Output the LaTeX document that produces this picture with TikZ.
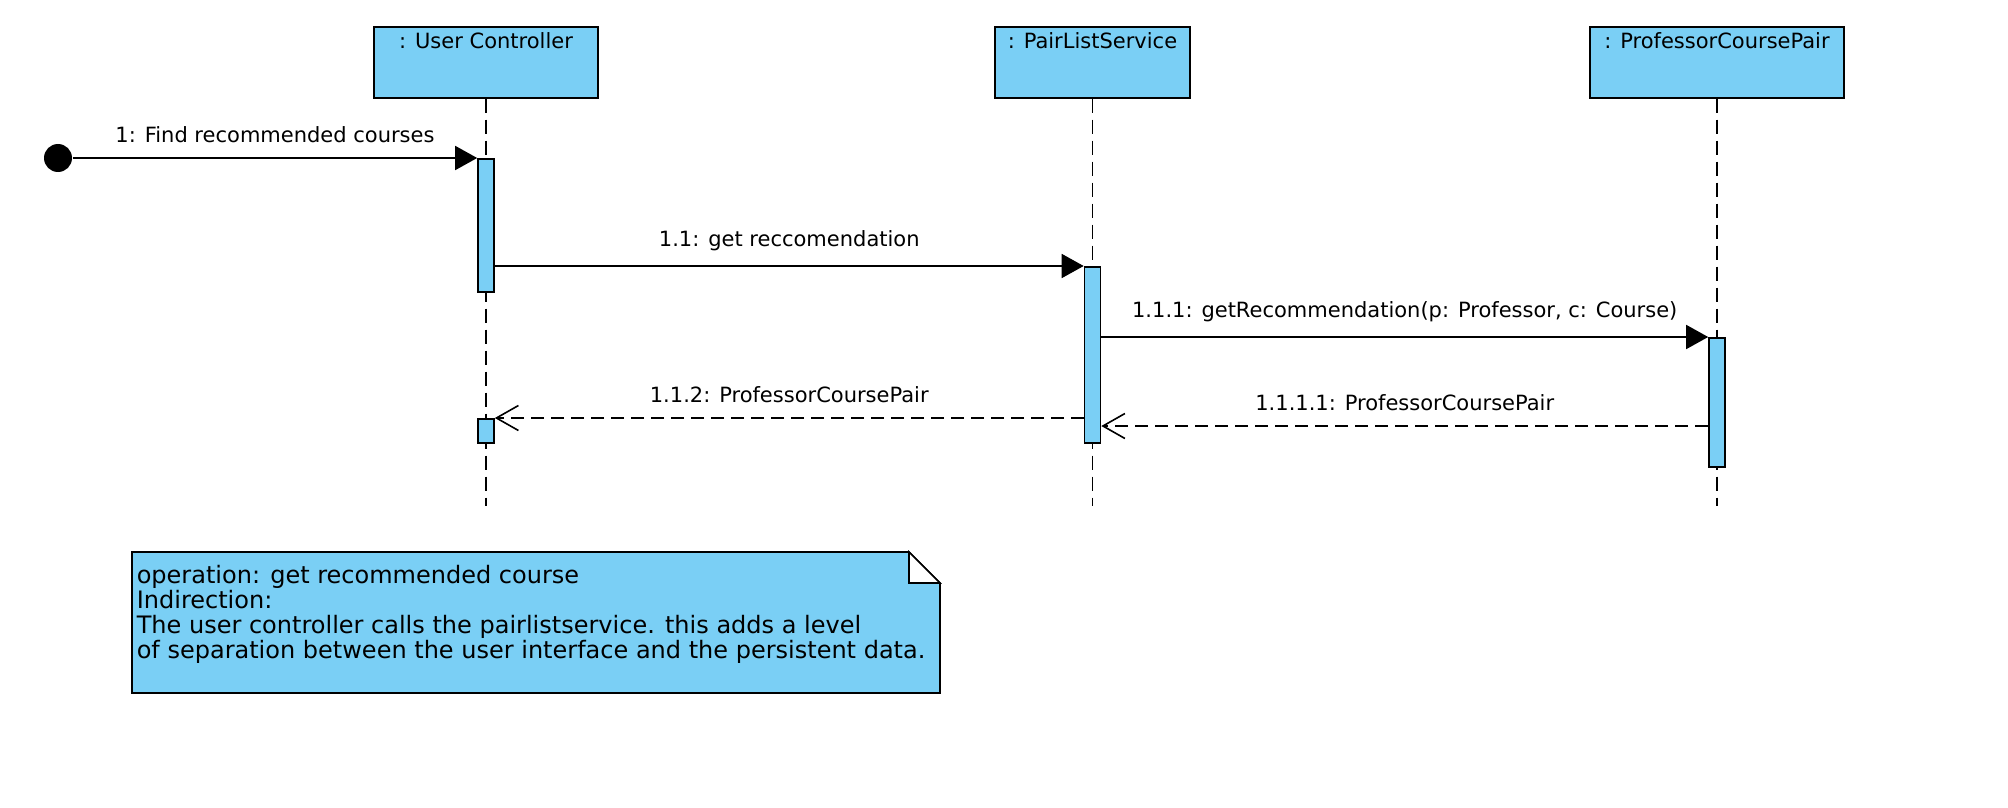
\documentclass[tikz,border=0pt]{standalone}
\usepackage{fontspec}
\setmainfont{DejaVu Sans}
\usetikzlibrary{arrows.meta}
\definecolor{umlblue}{RGB}{122,207,245}
\begin{document}
\begin{tikzpicture}[x=0.5pt, y=-0.5pt, line width=0.8pt,
  every node/.style={font=\fontsize{10.5}{12.5}\selectfont},
  head/.style={draw, fill=umlblue, anchor=north, minimum height=35.5pt, inner xsep=2pt, inner ysep=3pt, text height=8pt, text depth=21.5pt},
  actbar/.style={draw, fill=umlblue, anchor=north, minimum width=8pt, inner sep=0pt},
  lifeline/.style={dash pattern=on 7pt off 3.5pt},
  call/.style={-{Triangle[length=11pt,width=12pt]}},
  ret/.style={dash pattern=on 6.5pt off 3.5pt, -{Straight Barb[length=11pt,width=12.5pt]}},
  msg/.style={midway, above=4pt}]
\useasboundingbox (0,0) rectangle (2008,808);
% lifelines
\node[head, minimum width=112pt] (uc) at (486,26) {: User Controller};
\node[head, minimum width=97.5pt] (pls) at (1092.5,26) {: PairListService};
\node[head, minimum width=127pt] (pcp) at (1717,26) {: ProfessorCoursePair};
\coordinate (ucEnd) at (uc.south |- 0,506);
\coordinate (plsEnd) at (pls.south |- 0,506);
\coordinate (pcpEnd) at (pcp.south |- 0,506);
\draw[lifeline] (uc.south) -- (ucEnd);
\draw[lifeline] (pls.south) -- (plsEnd);
\draw[lifeline] (pcp.south) -- (pcpEnd);
% messages
\node[circle, fill, inner sep=0pt, minimum size=14pt] (start) at (58,158) {};
\node[actbar, minimum height=66.5pt] (actUC) at (uc.south |- 0,158) {};
\draw[call] (start) -- (actUC.north west) node[msg] {1: Find recommended courses};
\node[actbar, minimum height=88pt] (actPLS) at (pls.south |- 0,266) {};
\draw[call] (actUC.east |- actPLS.north) -- (actPLS.north west) node[msg] {1.1: get reccomendation};
\node[actbar, minimum height=64.5pt] (actPCP) at (pcp.south |- 0,337) {};
\draw[call] (actPLS.east |- actPCP.north) -- (actPCP.north west) node[msg] {1.1.1: getRecommendation(p: Professor, c: Course)};
\coordinate (back1) at (actPCP.west |- 0,426);
\draw[ret] (back1) -- (actPLS.east |- back1) node[msg] {1.1.1.1: ProfessorCoursePair};
\node[actbar, minimum height=12pt] (actUC2) at (uc.south |- 0,418) {};
\draw[ret] (actPLS.west |- actUC2.north) -- (actUC2.north east) node[msg] {1.1.2: ProfessorCoursePair};
% note
\draw[fill=umlblue] (132,552) -- (909,552) -- (940,583) -- (940,693) -- (132,693) -- cycle;
\draw[fill=white] (909,552) -- (909,583) -- (940,583) -- cycle;
\node[anchor=north west, align=left, inner sep=0pt, font=\fontsize{12}{12.6}\selectfont] (noteText) at (136,564) {operation: get recommended course\\Indirection:\\The user controller calls the pairlistservice. this adds a level\\of separation between the user interface and the persistent data.};
\end{tikzpicture}
\end{document}
